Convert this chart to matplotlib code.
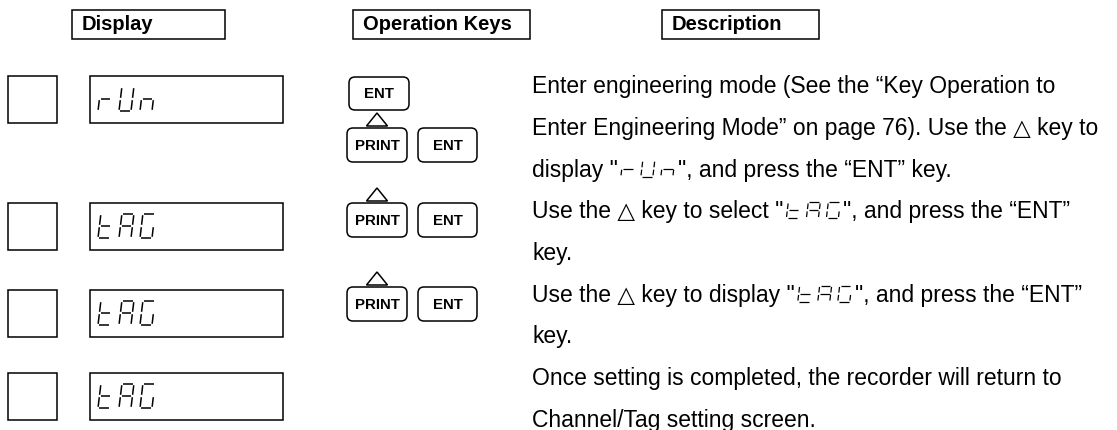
import re
import matplotlib
matplotlib.use("Agg")
import matplotlib.pyplot as plt
from matplotlib.patches import Rectangle, FancyBboxPatch, Polygon

# ── content ──
HEADERS = ["Display", "Operation Keys", "Description"]
DISPLAY_CODES = ["rUn", "tAG", "tAG", "tAG"]
# keys per step: "^PRINT" = PRINT key with the up-triangle above it
KEY_STEPS = [["ENT", "^PRINT", "ENT"], ["^PRINT", "ENT"], ["^PRINT", "ENT"], []]
DESC_LINES = [
    "Enter engineering mode (See the \u201cKey Operation to",
    "Enter Engineering Mode\u201d on page 76). Use the \u25b3 key to",
    "display \"{rUn}\", and press the \u201cENT\u201d key.",
    "Use the \u25b3 key to select \"{tAG}\", and press the \u201cENT\u201d",
    "key.",
    "Use the \u25b3 key to display \"{tAG}\", and press the \u201cENT\u201d",
    "key.",
    "Once setting is completed, the recorder will return to",
    "Channel/Tag setting screen.",
]

# seven-segment patterns
SEGS = {"r": "eg", "U": "bcdef", "n": "ceg", "t": "defg", "A": "abcefg", "G": "acdef"}

W, H = 1117, 430
FONT = ["Liberation Sans", "DejaVu Sans"]

fig = plt.figure(figsize=(W / 100, H / 100), dpi=100)
ax = fig.add_axes([0, 0, 1, 1])
ax.set_xlim(0, W)
ax.set_ylim(H, 0)
ax.axis("off")
rend = fig.canvas.get_renderer()


def seg_glyph(ch, x0, ybot, w, h, lw, slant=0.12, gap=1.2):
    pts = {"a": ((0, h), (w, h)), "b": ((w, h), (w, h / 2)), "c": ((w, h / 2), (w, 0)),
           "d": ((0, 0), (w, 0)), "e": ((0, h / 2), (0, 0)), "f": ((0, h), (0, h / 2)),
           "g": ((0, h / 2), (w, h / 2))}
    for s in SEGS[ch]:
        (xa, ya), (xb, yb) = pts[s]
        L = ((xb - xa) ** 2 + (yb - ya) ** 2) ** 0.5
        ux, uy = (xb - xa) / L, (yb - ya) / L
        xa, ya, xb, yb = xa + ux * gap, ya + uy * gap, xb - ux * gap, yb - uy * gap
        ax.plot([x0 + xa + slant * ya, x0 + xb + slant * yb], [ybot - ya, ybot - yb],
                color="black", lw=lw, solid_capstyle="butt")


def seg_word(word, x0, ybot, w, h, pitch, lw):
    for i, ch in enumerate(word):
        seg_glyph(ch, x0 + i * pitch, ybot, w, h, lw)
    return pitch * (len(word) - 1) + w + h * 0.12


# ── headers ──
HDR_BOXES = [(72, 225), (353, 530), (662, 819)]
for label, (x0, x1) in zip(HEADERS, HDR_BOXES):
    ax.add_patch(Rectangle((x0, 10), x1 - x0, 29, fill=False, ec="black", lw=1.1))
    ax.text(x0 + 10, 25, label, fontsize=14.5, fontweight="bold", family=FONT, va="center", ha="left")

# ── display column ──
ROW_TOPS = [76, 203, 290, 373]
for top, code in zip(ROW_TOPS, DISPLAY_CODES):
    ax.add_patch(Rectangle((8, top), 49, 47, fill=False, ec="black", lw=1.1))
    ax.add_patch(Rectangle((90, top), 193, 47, fill=False, ec="black", lw=1.1))
    seg_word(code, 98, top + 35, 12, 24, 21, 1.1)

# ── operation keys ──
def key(label, x0, top, w=60, h=34):
    ax.add_patch(FancyBboxPatch((x0, top), w, h, boxstyle="round,pad=0,rounding_size=6",
                                fill=False, ec="black", lw=1.1))
    ax.text(x0 + w / 2, top + h / 2 + 1, label, fontsize=10.8, fontweight="bold",
            family=FONT, ha="center", va="center")


PRINT_TOPS = [128, 203, 287]
for steps, ptop in zip(KEY_STEPS, PRINT_TOPS + [None]):
    if not steps:
        continue
    if steps[0] == "ENT":
        key("ENT", 349, 77, h=33)
        steps = steps[1:]
    x = 347
    for s in steps:
        if s.startswith("^"):
            cx = x + 30
            ax.add_patch(Polygon([(cx - 10.5, ptop - 2), (cx + 10.5, ptop - 2), (cx, ptop - 15)],
                                 closed=True, fill=False, ec="black", lw=1.1))
            key(s[1:], x, ptop)
            x += 71
        else:
            key(s, x, ptop, w=59)
            x += 71

# ── description text (with inline seven-segment words) ──
TX, BASE0, STEP = 532, 93, 41.75
for i, line in enumerate(DESC_LINES):
    yb = BASE0 + i * STEP
    x = TX
    for part in re.split(r"(\{[^}]*\})", line):
        if not part:
            continue
        if part.startswith("{"):
            x += 3
            x += seg_word(part[1:-1], x, yb, 12, 16, 20, 0.9) + 3
        else:
            t = ax.text(x, yb, part, fontsize=16.5, family=FONT, va="baseline", ha="left")
            x += t.get_window_extent(renderer=rend).width

fig.savefig("out.png", dpi=100, facecolor="white")
